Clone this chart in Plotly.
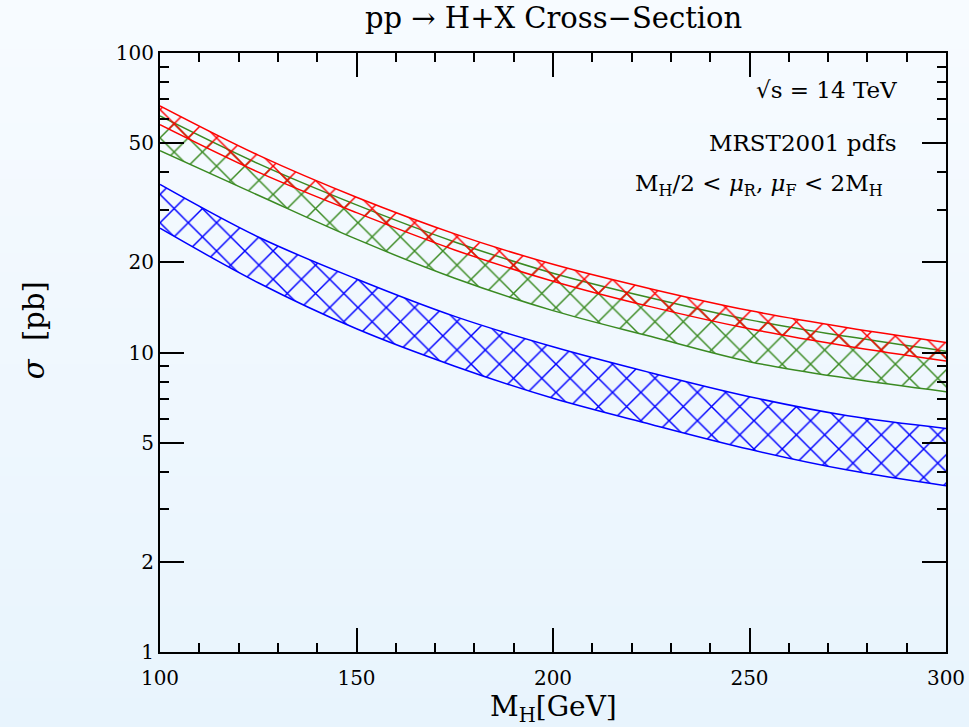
import plotly.graph_objects as go

# Higgs mass grid (GeV)
mh = [100, 125, 150, 175, 200, 225, 250, 275, 300]

# Cross-section bands (pb): upper / lower edges
red_upper = [66.6, 45.6, 33.0, 24.9, 19.7, 16.3, 13.8, 12.1, 10.8]
red_lower = [57.6, 40.0, 29.3, 22.0, 17.3, 14.2, 12.0, 10.5, 9.37]
green_upper = [61.6, 42.7, 31.1, 23.4, 18.4, 15.2, 12.85, 11.3, 10.1]
green_lower = [47.2, 33.5, 23.9, 17.7, 13.8, 11.3, 9.32, 8.2, 7.40]
blue_upper = [36.4, 24.3, 17.6, 13.2, 10.45, 8.55, 7.12, 6.15, 5.58]
blue_lower = [26.0, 17.1, 12.0, 9.0, 7.03, 5.75, 4.75, 4.05, 3.59]

x_ticks = [100, 150, 200, 250, 300]
y_ticks = [1, 2, 5, 10, 20, 50, 100]
y_minor = [3, 4, 6, 7, 8, 9, 30, 40, 60, 70, 80, 90]

FONT = "DejaVu Serif"

fig = go.Figure()

bands = [
    (blue_lower, blue_upper, "#0000ff"),
    (green_lower, green_upper, "#3a8a22"),
    (red_lower, red_upper, "#ff0000"),
]
for lo, hi, col in bands:
    fig.add_trace(go.Scatter(x=mh, y=lo, mode="lines",
                             line=dict(color=col, width=1.5, shape="spline"),
                             showlegend=False, hoverinfo="skip"))
    fig.add_trace(go.Scatter(x=mh, y=hi, mode="lines",
                             line=dict(color=col, width=1.5, shape="spline"),
                             fill="tonexty", fillcolor="rgba(0,0,0,0)",
                             fillpattern=dict(shape="x", fgcolor=col,
                                              bgcolor="rgba(0,0,0,0)",
                                              fgopacity=1,
                                              size=20, solidity=0.14),
                             showlegend=False, hoverinfo="skip"))

# background gradient (paper coordinates)
shapes = []
n = 40
y0p, y1p = -0.14, 1.10
top = (247, 251, 255)
bot = (232, 244, 253)
for i in range(n):
    t = i / (n - 1)
    c = tuple(round(bot[k] + (top[k] - bot[k]) * t) for k in range(3))
    ya = y0p + (y1p - y0p) * i / n
    yb = y0p + (y1p - y0p) * (i + 1) / n
    shapes.append(dict(type="rect", xref="paper", yref="paper",
                       x0=-0.25, x1=1.05, y0=ya, y1=yb + 0.002,
                       fillcolor="rgb(%d,%d,%d)" % c, line=dict(width=0),
                       layer="below"))

ann_font = dict(family=FONT, size=23, color="black")
annotations = [
    dict(text="pp → H+X Cross−Section", xref="paper", yref="paper",
         x=0.5, y=1.058, xanchor="center", yanchor="middle", showarrow=False,
         font=dict(family=FONT, size=29, color="black")),
    dict(text="M<sub>H</sub>[GeV]", xref="paper", yref="paper",
         x=0.5, y=-0.094, xanchor="center", yanchor="middle", showarrow=False,
         font=dict(family=FONT, size=28, color="black")),
    dict(text="<i>σ</i>  [pb]", xref="paper", yref="paper", textangle=-90,
         x=-0.16, y=0.5376, xanchor="center", yanchor="middle", showarrow=False,
         font=dict(family=FONT, size=29, color="black")),
    dict(text="√s = 14 TeV", xref="paper", yref="paper",
         x=0.940, y=0.938, xanchor="right", yanchor="middle", showarrow=False,
         font=ann_font),
    dict(text="MRST2001 pdfs", xref="paper", yref="paper",
         x=0.940, y=0.850, xanchor="right", yanchor="middle", showarrow=False,
         font=ann_font),
    dict(text="M<sub>H</sub>/2 < <i>μ</i><sub>R</sub>, <i>μ</i><sub>F</sub> < 2M<sub>H</sub>",
         xref="paper", yref="paper",
         x=0.922, y=0.780, xanchor="right", yanchor="middle", showarrow=False,
         font=ann_font),
]

fig.update_layout(
    width=969, height=727,
    margin=dict(l=160, r=23, t=53, b=75, autoexpand=False),
    paper_bgcolor="rgb(240,248,254)",
    plot_bgcolor="rgba(0,0,0,0)",
    shapes=shapes,
    annotations=annotations,
    font=dict(family=FONT, size=20, color="black"),
    xaxis=dict(range=[100, 300], tickmode="array", tickvals=x_ticks,
               ticktext=[str(v) for v in x_ticks], automargin=False,
               ticks="inside", ticklen=24, tickwidth=1.5, tickcolor="black",
               ticklabelstandoff=7,
               showline=True, linecolor="black", linewidth=2, mirror="ticks",
               showgrid=False, zeroline=False,
               tickfont=dict(family=FONT, size=20),
               minor=dict(dtick=10, tick0=100, ticks="inside", ticklen=9,
                          tickwidth=1.5, tickcolor="black", showgrid=False)),
    yaxis=dict(type="log", range=[0, 2], tickmode="array", tickvals=y_ticks,
               ticktext=[str(v) for v in y_ticks], automargin=False,
               ticks="inside", ticklen=24, tickwidth=1.5, tickcolor="black",
               showline=True, linecolor="black", linewidth=2, mirror="ticks",
               showgrid=False, zeroline=False,
               tickfont=dict(family=FONT, size=20),
               minor=dict(tickmode="array", tickvals=y_minor, ticks="inside",
                          ticklen=9, tickwidth=1.5, tickcolor="black",
                          showgrid=False)),
)

fig.write_html("out.html",
               config={"displayModeBar": False},
               post_script="document.body.style.margin='0px';"
                           "document.body.style.overflow='hidden';")
